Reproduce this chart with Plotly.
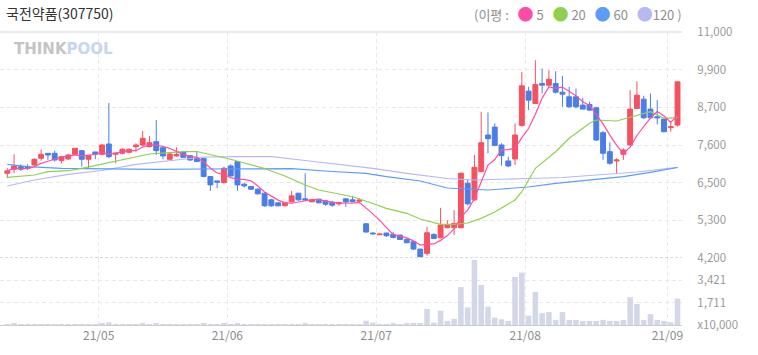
import plotly.graph_objects as go
import pandas as pd

# ---------------- data ----------------
holidays = ['2021-05-05', '2021-05-19', '2021-08-16']
dates = [d.strftime('%Y-%m-%d') for d in pd.bdate_range('2021-04-13', '2021-09-02')
         if d.strftime('%Y-%m-%d') not in holidays]

opens = [6750, 6870, 6950, 6950, 7000, 7200, 7350, 7350, 7130, 7180,
         7320, 7430, 7170, 7390, 7320, 7630, 7320, 7350, 7380, 7550,
         7600, 7550, 7700, 7520, 7170, 7270, 7390, 7280, 7200, 7200,
         6650, 6520, 6470, 6970, 7100, 6420, 6350, 6270, 6150, 5950,
         5860, 5770, 5890, 6150, 5980, 5890, 5970, 5920, 5880, 5830,
         5980, 5950, 5910, 5230, 4950, 4900, 4950, 4910, 4890, 4760,
         4690, 4470, 4340, 4910, 4810, 5110, 5110, 5110, 6450, 5950,
         6800, 7900, 8140, 7600, 7120, 7180, 8190, 9220, 8850, 9450,
         9400, 9450, 9190, 9050, 9050, 8800, 8820, 8720, 7970, 7400,
         7120, 7320, 7600, 8700, 8980, 8680, 8450, 8380, 8120, 8200]
highs = [6900, 7320, 7020, 7020, 7200, 7470, 7350, 7430, 7270, 7330,
         7500, 7450, 7300, 7390, 7630, 8860, 7350, 7500, 7500, 7650,
         8020, 7870, 8350, 7520, 7370, 7530, 7400, 7300, 7420, 7220,
         6650, 6520, 6950, 7020, 7100, 6470, 6370, 6300, 6180, 5980,
         5880, 5890, 6220, 6150, 6750, 5960, 5980, 5950, 5920, 5890,
         6000, 6070, 6000, 5240, 4980, 4930, 4960, 4990, 4900, 4790,
         4690, 4470, 5140, 4940, 5710, 5340, 5640, 6770, 6570, 7300,
         8600, 8580, 8250, 7650, 7250, 8250, 9800, 9350, 10150, 9900,
         9850, 9820, 9680, 9350, 9300, 9020, 8900, 8750, 8020, 7680,
         7200, 7500, 9250, 9520, 9080, 9150, 8950, 8400, 8300, 9500]
lows = [6600, 6750, 6820, 6850, 6970, 7130, 7150, 7100, 7050, 7150,
        7300, 6950, 6900, 7170, 7300, 7200, 7050, 7320, 7350, 7400,
        7570, 7530, 7300, 7170, 7150, 7250, 7220, 7120, 7100, 6630,
        6220, 6300, 6430, 6650, 6220, 6320, 6250, 6110, 5740, 5740,
        5760, 5760, 5880, 5920, 5940, 5880, 5850, 5770, 5740, 5770,
        5740, 5880, 5850, 4970, 4900, 4890, 4830, 4790, 4740, 4640,
        4440, 4230, 4270, 4770, 4790, 5090, 4890, 5090, 5790, 5920,
        6780, 7350, 7560, 6980, 6930, 7000, 8150, 8650, 8830, 9150,
        9350, 9150, 8750, 8720, 8700, 8680, 8620, 7720, 7150, 7000,
        6750, 7150, 7580, 8680, 8380, 8380, 8220, 7980, 8000, 8150]
closes = [6820, 6970, 6870, 6900, 7170, 7320, 7300, 7150, 7250, 7300,
          7500, 7170, 7280, 7320, 7600, 7250, 7350, 7470, 7470, 7600,
          7800, 7670, 7430, 7270, 7330, 7320, 7230, 7150, 7100, 6650,
          6400, 6480, 6900, 6670, 6400, 6370, 6270, 6130, 5770, 5770,
          5770, 5860, 6070, 5950, 5950, 5950, 5860, 5820, 5790, 5860,
          5890, 5900, 5940, 4980, 4930, 4920, 4870, 4820, 4760, 4660,
          4470, 4240, 4960, 4790, 5190, 5190, 5240, 6750, 5830, 6930,
          7670, 7790, 7590, 7280, 6970, 7900, 9380, 8950, 9420, 9400,
          9580, 9190, 9130, 8750, 8750, 8680, 8650, 7750, 7350, 7050,
          7150, 7450, 8680, 9100, 8420, 8420, 8420, 8000, 8150, 9500]
volumes = [60, 80, 50, 45, 60, 70, 50, 55, 45, 45,
           60, 70, 55, 45, 80, 200, 60, 50, 45, 50,
           90, 60, 110, 60, 50, 45, 45, 45, 50, 80,
           70, 50, 90, 60, 100, 45, 40, 45, 60, 45,
           40, 45, 60, 50, 120, 40, 40, 45, 45, 40,
           50, 45, 50, 330, 180, 60, 70, 80, 70, 80,
           90, 100, 1220, 180, 1090, 310, 470, 2900, 1350, 4980,
           3060, 1400, 570, 440, 310, 3680, 4020, 720, 2540, 910,
           990, 390, 990, 390, 390, 310, 310, 310, 390, 310,
           310, 390, 2120, 1610, 390, 830, 390, 310, 210, 2020]

ma20_idx = [0, 4, 6, 9, 11, 14, 16, 19, 21, 24, 26, 28, 31, 33, 35, 38, 41, 44, 46, 49,
            51, 54, 56, 59, 61, 64, 66, 68, 70, 72, 75, 76, 77, 78, 81, 83, 86, 87, 90, 93,
            95, 97, 99]
ma20_val = [6628, 6697, 6796, 6826, 6899, 7028, 7127, 7248, 7329, 7368, 7398, 7404, 7269,
            7170, 7058, 6893, 6667, 6396, 6246, 6116, 6044, 5840, 5695, 5545, 5373, 5214,
            5214, 5253, 5394, 5584, 5945, 6195, 6547, 6899, 7398, 7801, 8253, 8352, 8322,
            8503, 8602, 8403, 8421]
ma60_idx = [0, 3, 8, 15, 22, 29, 36, 42, 48, 53, 56, 61, 65, 68, 71, 73, 77, 81, 86, 91, 95, 99]
ma60_val = [7019, 6947, 6899, 6878, 6869, 6878, 6893, 6887, 6802, 6748, 6646, 6517, 6306,
            6267, 6246, 6276, 6336, 6447, 6547, 6646, 6778, 6923]
ma120_idx = [0, 4, 9, 14, 19, 24, 29, 34, 39, 44, 49, 54, 59, 65, 69, 73, 77, 82, 88, 93, 99]
ma120_val = [6366, 6547, 6718, 6833, 7019, 7118, 7239, 7248, 7248, 7133, 7013, 6899, 6748,
             6592, 6547, 6562, 6592, 6622, 6712, 6787, 6929]

price_ticks = [4200, 5333.3, 6466.7, 7600, 8733.3, 9866.7, 11000]
price_labels = ['4,200', '5,300', '6,500', '7,600', '8,700', '9,900', '11,000']
vol_ticks = [0, 1711, 3421]
vol_labels = ['x10,000', '1,711', '3,421']

title_text = '국전약품(307750)'

# ---------------- figure ----------------
x = list(range(len(dates)))
ma5 = pd.Series(closes).rolling(5, min_periods=1).mean().tolist()

month_idx = [i for i in range(1, len(dates)) if dates[i][5:7] != dates[i - 1][5:7]]
month_pos = [i - 0.5 for i in month_idx]
month_txt = [dates[i][2:4] + '/' + dates[i][5:7] for i in month_idx]

FONT = 'Noto Sans CJK KR'
RED, BLUE = '#f5515f', '#4a7ee6'
C5, C20, C60, C120 = '#ff4da6', '#8fd14f', '#5b9cf8', '#b8b8f2'

fig = go.Figure()
fig.add_trace(go.Bar(x=x, y=volumes, yaxis='y2', width=0.82,
                     marker=dict(color='#d3d7e8', line=dict(width=0)), hoverinfo='skip'))
fig.add_trace(go.Scatter(x=ma120_idx, y=ma120_val, mode='lines', line=dict(color=C120, width=1.2)))
fig.add_trace(go.Scatter(x=ma60_idx, y=ma60_val, mode='lines', line=dict(color=C60, width=1.2)))
fig.add_trace(go.Scatter(x=ma20_idx, y=ma20_val, mode='lines', line=dict(color=C20, width=1.2)))
fig.add_trace(go.Candlestick(x=x, open=opens, high=highs, low=lows, close=closes,
                             whiskerwidth=0,
                             increasing=dict(line=dict(color=RED, width=1), fillcolor=RED),
                             decreasing=dict(line=dict(color=BLUE, width=1), fillcolor=BLUE)))
fig.add_trace(go.Scatter(x=x, y=ma5, mode='lines', line=dict(color=C5, width=1.2)))

H = 293.0
def py(px):
    return (325 - px) / H

NB = '\u00a0'
def dot(c):
    return f'<span style="color:{c};font-size:16px">●</span>'

legend_txt = ('(이평' + NB + ':' + NB * 3 + dot(C5) + NB + '5' + NB * 3 +
              dot(C20) + NB + '20' + NB * 3 + dot(C60) + NB + '60' + NB * 3 +
              dot(C120) + '120' + NB + ')')

fig.update_layout(
    width=758, height=355,
    margin=dict(l=0, r=76, t=32, b=30),
    paper_bgcolor='white', plot_bgcolor='white',
    showlegend=False,
    boxgap=0.15, boxgroupgap=0.15,
    font=dict(family=FONT, color='#999999'),
    xaxis=dict(range=[-1.078, 99.66], anchor='y2', tickmode='array',
               tickvals=month_pos, ticktext=month_txt,
               showgrid=True, gridcolor='#e9e9e9', griddash='4px,3px', gridwidth=1,
               zeroline=False, showline=True, linecolor='#cccccc', linewidth=1,
               ticks='', tickfont=dict(size=12, color='#8c8c8c'),
               rangeslider=dict(visible=False), fixedrange=True),
    yaxis=dict(domain=[py(258), 1], range=[4200, 11000], side='right', anchor='x',
               tickmode='array', tickvals=price_ticks, ticktext=price_labels,
               showgrid=True, gridcolor='#e9e9e9', griddash='4px,3px',
               zeroline=False, ticks='outside', ticklen=12, tickcolor='rgba(0,0,0,0)',
               tickfont=dict(size=11.5, color='#9a9a9a'), fixedrange=True),
    yaxis2=dict(domain=[0, py(258)], range=[0, 5132], side='right', anchor='x',
                tickmode='array', tickvals=vol_ticks, ticktext=vol_labels,
                showgrid=True, gridcolor='#e9e9e9', griddash='4px,3px',
                zeroline=False, ticks='outside', ticklen=12, tickcolor='rgba(0,0,0,0)',
                tickfont=dict(size=11.5, color='#9a9a9a'), fixedrange=True),
    shapes=[
        dict(type='line', xref='paper', yref='paper', x0=0, x1=1, y0=1, y1=1,
             line=dict(color='#e3e3e3', width=1.5)),
        dict(type='line', xref='paper', yref='y', x0=0, x1=1, y0=4200, y1=4200,
             line=dict(color='#b5b5b5', width=1.2, dash='3px,2px')),
    ],
    annotations=[
        dict(text=title_text, xref='paper', yref='paper', x=4 / 682, y=py(13),
             xanchor='left', yanchor='middle', showarrow=False,
             font=dict(family=FONT, size=14, color='#333333')),
        dict(text=legend_txt, xref='paper', yref='paper', x=684 / 682, y=py(13),
             xanchor='right', yanchor='middle', showarrow=False,
             font=dict(family=FONT, size=13, color='#8f8f8f')),
        dict(text='<b><span style="color:#c4c4c4">THINK</span>'
                  '<span style="color:#c8d5ef">POOL</span></b>',
             xref='paper', yref='paper', x=12 / 682, y=py(49),
             xanchor='left', yanchor='middle', showarrow=False,
             font=dict(family='DejaVu Sans', size=15)),
    ],
)

fig.write_html('out.html')
